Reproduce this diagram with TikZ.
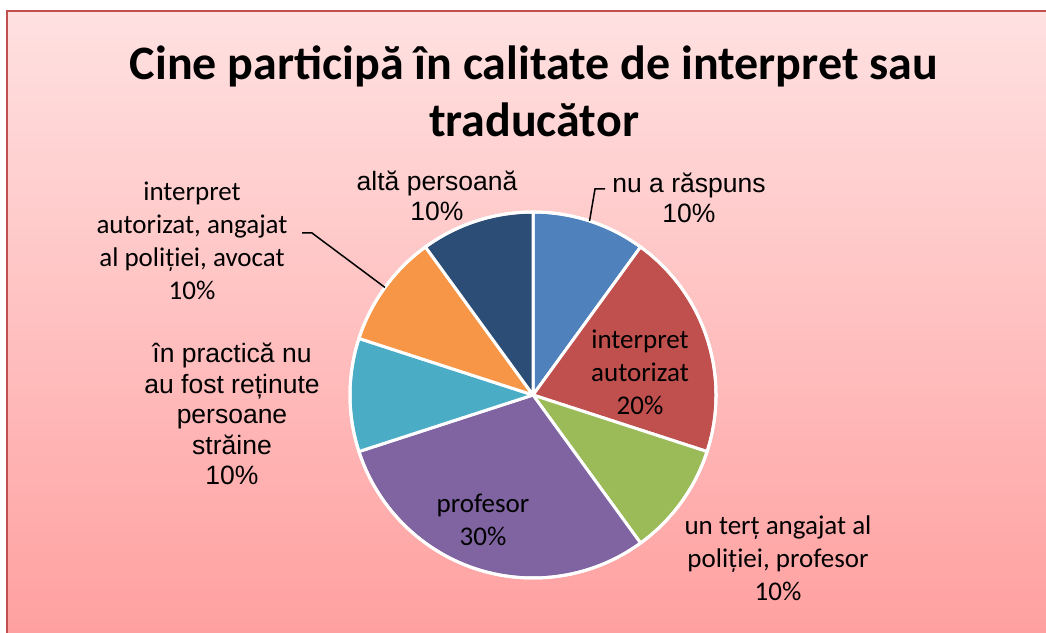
\documentclass[tikz,border=0pt]{standalone}
\usepackage{fontspec}
\newfontfamily\calibri{Carlito}
\newfontfamily\arial{Liberation Sans}
\usetikzlibrary{calc}

\begin{document}
\begin{tikzpicture}[x=1pt, y=1pt]

\def \r {183}

\definecolor{c_frame}{RGB}{192,80,77}
\definecolor{c_bg_top}{RGB}{255,225,225}
\definecolor{c_bg_bottom}{RGB}{255,160,160}
\definecolor{c_blue}{RGB}{79,129,189}
\definecolor{c_red}{RGB}{192,80,77}
\definecolor{c_green}{RGB}{155,187,89}
\definecolor{c_purple}{RGB}{128,100,162}
\definecolor{c_teal}{RGB}{75,172,198}
\definecolor{c_orange}{RGB}{247,150,70}
\definecolor{c_navy}{RGB}{44,77,117}

\tikzset{
  cal/.style={inner sep=0, align=center, font=\calibri\fontsize{27}{33}\selectfont},
  ari/.style={inner sep=0, align=center, font=\arial\fontsize{26.5}{30.5}\selectfont},
  leader/.style={black, line width=1.5}
}

\useasboundingbox (0,0) rectangle (1046,632);

% Background and frame
\shade[top color=c_bg_top, bottom color=c_bg_bottom] (7,0) rectangle (1046,621);
\draw[c_frame, line width=2] (7,-2) -- (7,621) -- (1048,621);

% Title
\node (title) at (534,541) [inner sep=0, align=center,
  font=\calibri\bfseries\fontsize{48}{57}\selectfont]
  {Cine participă în calitate de interpret sau\\traducător};

% Slices
\coordinate (centre) at (533,237);
\foreach \a/\b/\c in {90/54/c_blue, 54/-18/c_red, -18/-54/c_green,
  -54/-162/c_purple, -162/-198/c_teal, 162/126/c_orange, 126/90/c_navy} {
  \filldraw[fill=\c, draw=white, line width=3, line join=round]
    (centre) -- ++(\a:\r) arc[start angle=\a, end angle=\b, radius=\r] -- cycle;
}
\draw[white, line width=3] (centre) circle (\r);

% Labels
\node (alta) at (437,436) [ari] {altă persoană\\10\%};
\node (nu) at (689,434) [ari] {nu a răspuns\\10\%};
\node (interp) at (640,260) [cal] {interpret\\autorizat\\20\%};
\node (tert) at (778,74) [cal] {un terț angajat al\\poliției, profesor\\10\%};
\node (prof) at (483,112) [cal] {profesor\\30\%};
\node (practica) at (232,218) [ari] {în practică nu\\au fost reținute\\persoane\\străine\\10\%};
\node (angajat) at (192,391) [cal] {interpret\\autorizat, angajat\\al poliției, avocat\\10\%};

% Leader lines
\coordinate (nu_start) at (605,443);
\coordinate (nu_bend) at (595,443);
\coordinate (nu_end) at ($(centre)+(72:\r)$);
\draw[leader] (nu_start) -- (nu_bend) -- (nu_end);

\coordinate (ang_start) at (302,399);
\coordinate (ang_bend) at (312,399);
\coordinate (ang_end) at ($(centre)+(144:\r)$);
\draw[leader] (ang_start) -- (ang_bend) -- (ang_end);

\end{tikzpicture}
\end{document}
